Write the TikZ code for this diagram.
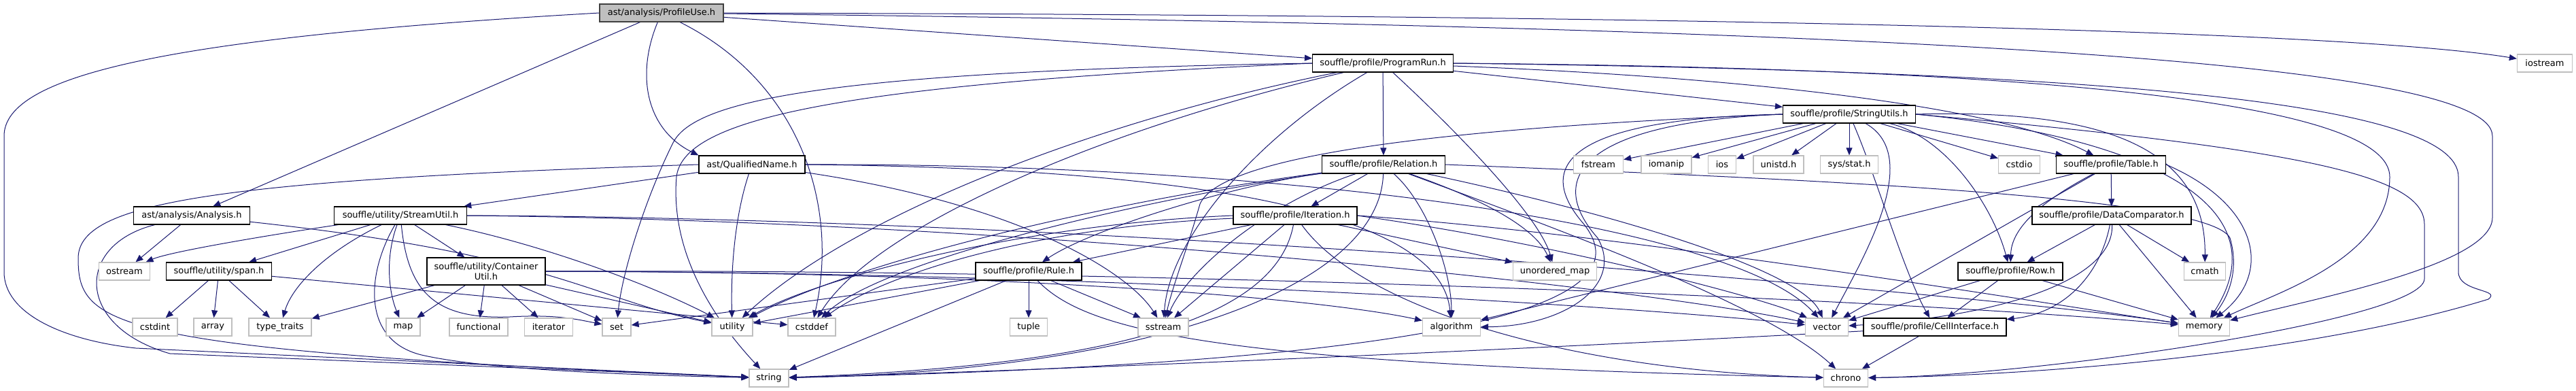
\documentclass[tikz,border=0pt]{standalone}
\usepackage{fontspec}
\setmainfont{DejaVu Sans}
\usetikzlibrary{arrows.meta,backgrounds}

\definecolor{edgeblue}{HTML}{191970}
\definecolor{rootgray}{HTML}{BFBFBF}
\newcommand*{\nodefont}{\fontsize{13}{15.5}\selectfont}
\newcommand*{\wmax}{3789}
\newcommand*{\hmax}{575}

\begin{document}
\begin{tikzpicture}
[
	x=1pt,
	y=-1pt,
	file/.style={rectangle,draw=black,fill=white,line width=1.1pt,minimum height=26pt,inner sep=0pt,font=\nodefont},
	root/.style={file,fill=rootgray,draw=black!75},
	sysfile/.style={file,draw=black!25,line width=1.3pt},
	dep/.style={edgeblue,line width=1pt,-{Triangle[length=11pt,width=9pt]}}
]

	\useasboundingbox (0,0) rectangle (\wmax,\hmax);

	% project headers
	\node[root,minimum width=182pt] (pu) at (973,19) {ast/analysis/ProfileUse.h};
	\node[file,minimum width=207pt] (pr) at (2034,93) {souffle/profile/ProgramRun.h};
	\node[file,minimum width=195pt] (st) at (2720,168) {souffle/profile/StringUtils.h};
	\node[file,minimum width=156pt] (qn) at (1106,242) {ast/QualifiedName.h};
	\node[file,minimum width=181pt] (re) at (2035,242) {souffle/profile/Relation.h};
	\node[file,minimum width=161pt] (ta) at (3105,242) {souffle/profile/Table.h};
	\node[file,minimum width=171pt] (an) at (282,317) {ast/analysis/Analysis.h};
	\node[file,minimum width=195pt] (su) at (589,317) {souffle/utility/StreamUtil.h};
	\node[file,minimum width=182pt] (it) at (1905,317) {souffle/profile/Iteration.h};
	\node[file,minimum width=234pt] (dc) at (3106,317) {souffle/profile/DataComparator.h};
	\node[file,minimum width=155pt] (span) at (322,399) {souffle/utility/span.h};
	\node[file,minimum width=174pt,minimum height=40pt,align=center] (cu) at (715,399) {souffle/utility/Container\\Util.h};
	\node[file,minimum width=156pt] (ru) at (1513,399) {souffle/profile/Rule.h};
	\node[file,minimum width=154pt] (ro) at (2957,399) {souffle/profile/Row.h};
	\node[file,minimum width=210pt] (ci) at (2846,481) {souffle/profile/CellInterface.h};

	% system headers
	\node[sysfile,minimum width=81pt] (iostream) at (3743,93) {iostream};
	\node[sysfile,minimum width=73pt] (fstream) at (2351,242) {fstream};
	\node[sysfile,minimum width=74pt] (iomanip) at (2451,242) {iomanip};
	\node[sysfile,minimum width=41pt] (ios) at (2533,242) {ios};
	\node[sysfile,minimum width=74pt] (unistd) at (2616,242) {unistd.h};
	\node[sysfile,minimum width=85pt] (sysstat) at (2720,242) {sys/stat.h};
	\node[sysfile,minimum width=61pt] (cstdio) at (2970,242) {cstdio};
	\node[sysfile,minimum width=75pt] (ostream) at (183,399) {ostream};
	\node[sysfile,minimum width=123pt] (umap) at (2287,399) {unordered\_map};
	\node[sysfile,minimum width=61pt] (cmath) at (3243,399) {cmath};
	\node[sysfile,minimum width=66pt] (cstdint) at (228,481) {cstdint};
	\node[sysfile,minimum width=56pt] (array) at (313,481) {array};
	\node[sysfile,minimum width=92pt] (typetraits) at (412,481) {type\_traits};
	\node[sysfile,minimum width=50pt] (map) at (593,481) {map};
	\node[sysfile,minimum width=86pt] (functional) at (704,481) {functional};
	\node[sysfile,minimum width=71pt] (iterator) at (807,481) {iterator};
	\node[sysfile,minimum width=42pt] (set) at (907,481) {set};
	\node[sysfile,minimum width=60pt] (utility) at (1077,481) {utility};
	\node[sysfile,minimum width=70pt] (cstddef) at (1194,481) {cstddef};
	\node[sysfile,minimum width=55pt] (tuple) at (1513,481) {tuple};
	\node[sysfile,minimum width=74pt] (sstream) at (1711,481) {sstream};
	\node[sysfile,minimum width=85pt] (algorithm) at (2135,481) {algorithm};
	\node[sysfile,minimum width=63pt] (vector) at (2687,481) {vector};
	\node[sysfile,minimum width=75pt] (memory) at (3242,481) {memory};
	\node[sysfile,minimum width=58pt] (string) at (1131,556) {string};
	\node[sysfile,minimum width=65pt] (chrono) at (2715,556) {chrono};

	\begin{pgfonlayer}{background}

	% ProfileUse.h
	\draw[dep] (pu.west) .. controls (250,55) and (6,110) .. (6,200) -- (6,400) .. controls (6,460) and (90,500) .. (200,512) -- (string);
	\draw[dep] (pu) -- (an);
	\draw[dep] (pu) .. controls (935,110) and (950,190) .. (qn.north west);
	\draw[dep] (pu) .. controls (1175,120) and (1235,300) .. (cstddef);
	\draw[dep] (pu) -- (pr);
	\draw[dep] (pu) .. controls (2500,22) and (3450,45) .. (iostream);
	\draw[dep] (pu) .. controls (2800,40) and (3666,90) .. (3666,200) -- (3666,320) .. controls (3666,390) and (3400,440) .. (memory);

	% Analysis.h
	\draw[dep] (an) -- (ostream);
	\draw[dep] (an) .. controls (110,360) and (110,480) .. (250,520) -- (string);
	\draw[dep] (an) .. controls (820,375) and (870,440) .. (utility);

	% QualifiedName.h
	\draw[dep] (qn) -- (su);
	\draw[dep] (qn.west) .. controls (300,265) and (115,300) .. (115,380) .. controls (115,480) and (160,515) .. (string);
	\draw[dep] (qn) .. controls (1080,320) and (1075,400) .. (utility);
	\draw[dep] (qn) .. controls (1500,300) and (1660,400) .. (sstream);
	\draw[dep] (qn.east) .. controls (1800,248) and (2120,320) .. (algorithm);
	\draw[dep] (qn.east) .. controls (1900,240) and (2550,330) .. (vector);

	% StreamUtil.h
	\draw[dep] (su) -- (span);
	\draw[dep] (su) -- (cu);
	\draw[dep] (su) .. controls (400,345) and (250,370) .. (ostream);
	\draw[dep] (su) .. controls (480,370) and (430,420) .. (typetraits);
	\draw[dep] (su) .. controls (566,380) and (572,430) .. (map);
	\draw[dep] (su) .. controls (600,430) and (640,470) .. (750,466) .. controls (820,462) and (850,470) .. (set);
	\draw[dep] (su) .. controls (540,400) and (530,500) .. (620,522) .. controls (720,545) and (950,552) .. (string);
	\draw[dep] (su) .. controls (800,360) and (960,420) .. (utility);
	\draw[dep] (su.east) .. controls (1500,325) and (2400,420) .. (vector);
	\draw[dep] (su.east) .. controls (1600,320) and (2900,430) .. (memory);

	% ContainerUtil.h
	\foreach \t in {typetraits,map,functional,iterator,set,utility} {
		\draw[dep] (cu) -- (\t);
	}
	\draw[dep] (cu.east) .. controls (1500,400) and (1950,440) .. (algorithm);
	\draw[dep] (cu.east) .. controls (1600,400) and (2400,450) .. (vector);
	\draw[dep] (cu.east) .. controls (1700,395) and (2800,440) .. (memory);

	% span.h
	\foreach \t in {cstdint,array,typetraits,cstddef} {
		\draw[dep] (span) -- (\t);
	}

	% ProgramRun.h
	\draw[dep] (pr) -- (re);
	\draw[dep] (pr) -- (st);
	\draw[dep] (pr) .. controls (2600,115) and (2950,160) .. (ta);
	\draw[dep] (pr.east) .. controls (3000,100) and (3515,150) .. (3515,260) .. controls (3515,380) and (3350,430) .. (memory);
	\draw[dep] (pr.east) .. controls (3100,105) and (3616,150) .. (3616,260) -- (3616,400) .. controls (3616,430) and (3680,425) .. (3660,440) .. controls (3400,520) and (3000,552) .. (chrono);
	\draw[dep] (pr.west) .. controls (1200,105) and (1020,150) .. (990,210) .. controls (950,290) and (915,400) .. (set);
	\draw[dep] (pr.west) .. controls (1200,125) and (1005,180) .. (995,260) .. controls (985,380) and (1060,480) .. (string);
	\draw[dep] (pr) .. controls (1600,180) and (1250,320) .. (utility);
	\draw[dep] (pr) .. controls (1600,195) and (1280,340) .. (cstddef);
	\draw[dep] (pr) .. controls (1850,200) and (1720,350) .. (sstream);
	\draw[dep] (pr) .. controls (2150,200) and (2265,320) .. (umap);

	% Relation.h
	\draw[dep] (re) -- (it);
	\draw[dep] (re) .. controls (1800,275) and (1600,340) .. (ru);
	\draw[dep] (re) .. controls (2100,300) and (2135,400) .. (algorithm);
	\draw[dep] (re) .. controls (2300,340) and (2600,450) .. (chrono);
	\draw[dep] (re) .. controls (1700,290) and (1300,380) .. (cstddef);
	\draw[dep] (re.east) .. controls (2700,265) and (3250,290) .. (3280,350) .. controls (3295,400) and (3275,440) .. (memory);
	\draw[dep] (re) .. controls (1860,300) and (1745,400) .. (sstream);
	\draw[dep] (re) .. controls (2030,420) and (1700,545) .. (string);
	\draw[dep] (re) .. controls (2200,300) and (2260,340) .. (umap);
	\draw[dep] (re) .. controls (1600,300) and (1250,390) .. (utility);
	\draw[dep] (re) .. controls (2400,320) and (2650,400) .. (vector);

	% Iteration.h
	\draw[dep] (it) -- (ru);
	\draw[dep] (it) .. controls (2000,450) and (2300,545) .. (chrono);
	\draw[dep] (it) .. controls (1500,335) and (1290,410) .. (cstddef);
	\draw[dep] (it.east) .. controls (2400,345) and (3000,445) .. (memory);
	\draw[dep] (it) -- (sstream);
	\draw[dep] (it) .. controls (1880,450) and (1700,535) .. (string);
	\draw[dep] (it) -- (umap);
	\draw[dep] (it.west) .. controls (1500,330) and (1200,410) .. (utility);
	\draw[dep] (it.east) .. controls (2300,360) and (2600,440) .. (vector);

	% Rule.h
	\foreach \t in {tuple,sstream,string,set,utility} {
		\draw[dep] (ru) -- (\t);
	}
	\draw[dep] (ru) .. controls (1600,490) and (1800,535) .. (chrono);

	% StringUtils.h
	\foreach \t in {fstream,iomanip,ios,unistd,sysstat,cstdio,ta} {
		\draw[dep] (st) -- (\t);
	}
	\draw[dep] (st) .. controls (2860,200) and (2930,300) .. (ro);
	\draw[dep] (st.east) .. controls (3100,160) and (3245,220) .. (cmath);
	\draw[dep] (st.east) .. controls (3150,200) and (3360,300) .. (memory);
	\draw[dep] (st) .. controls (2830,230) and (2740,380) .. (vector);
	\draw[dep] (st.west) .. controls (2290,175) and (2260,250) .. (2330,330) .. controls (2400,420) and (2300,530) .. (string);
	\draw[dep] (st.west) .. controls (2330,180) and (2270,260) .. (2350,350) .. controls (2390,420) and (2300,480) .. (algorithm);
	\draw[dep] (st.west) .. controls (2200,185) and (1800,220) .. (1765,300) .. controls (1745,370) and (1725,420) .. (sstream);
	\draw[dep] (st.east) .. controls (3400,220) and (3566,260) .. (3566,330) -- (3566,410) .. controls (3566,470) and (3000,552) .. (chrono);
	\draw[dep] (st) .. controls (2760,260) and (2800,400) .. (ci);

	% Table.h
	\draw[dep] (ta) -- (dc);
	\draw[dep] (ta) .. controls (2975,310) and (2958,350) .. (ro);
	\draw[dep] (ta) -- (algorithm);
	\draw[dep] (ta) -- (vector);
	\draw[dep] (ta.east) .. controls (3320,300) and (3345,400) .. (memory);

	% DataComparator.h
	\foreach \t in {ro,cmath,memory} {
		\draw[dep] (dc) -- (\t);
	}
	\draw[dep] (dc) .. controls (3090,400) and (3040,460) .. (ci);
	\draw[dep] (dc) .. controls (3110,410) and (2950,465) .. (vector);

	% Row.h
	\foreach \t in {vector,ci,memory} {
		\draw[dep] (ro) -- (\t);
	}

	% CellInterface.h
	\draw[dep] (ci) -- (chrono);
	\draw[dep] (ci) .. controls (2500,500) and (1700,540) .. (string);

	\end{pgfonlayer}

\end{tikzpicture}
\end{document}
